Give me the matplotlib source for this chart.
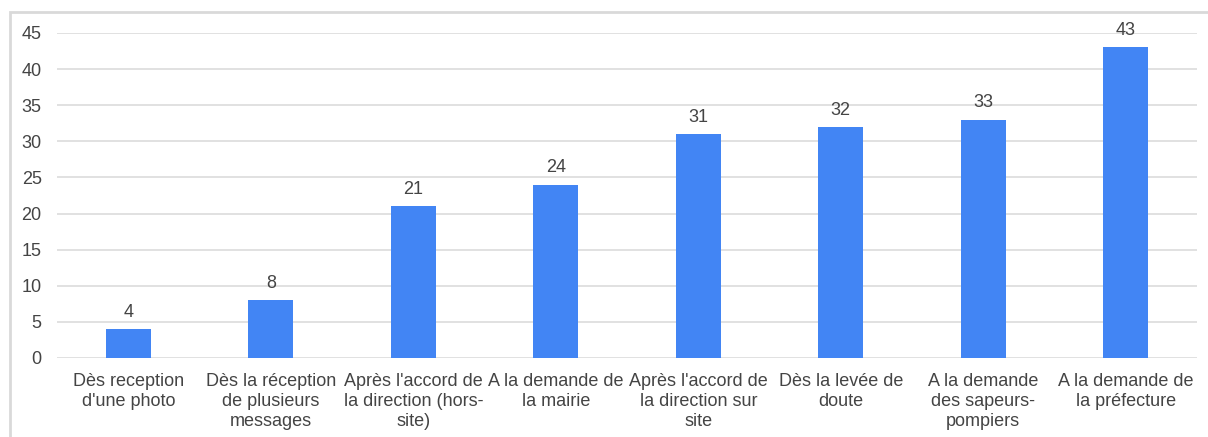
import matplotlib.pyplot as plt
from matplotlib.patches import Rectangle

categories = [
    "Dès reception\nd'une photo",
    "Dès la réception\nde plusieurs\nmessages",
    "Après l'accord de\nla direction (hors-\nsite)",
    "A la demande de\nla mairie",
    "Après l'accord de\nla direction sur\nsite",
    "Dès la levée de\ndoute",
    "A la demande\ndes sapeurs-\npompiers",
    "A la demande de\nla préfecture",
]
values = [4, 8, 21, 24, 31, 32, 33, 43]
yticks = [0, 5, 10, 15, 20, 25, 30, 35, 40, 45]

plt.rcParams['font.family'] = ['Liberation Sans', 'DejaVu Sans']
text_color = '#444444'
fs = 13

fig = plt.figure(figsize=(12.08, 4.37), dpi=100)
ax = fig.add_axes([0.0472, 0.1808, 0.9437, 0.7437])

# outer frame (left and top edges visible, rest cropped)
fig.patches.append(Rectangle((10 / 1208, -0.1), 1.2, 0.1 + (1 - 12 / 437),
                             transform=fig.transFigure, fill=False,
                             edgecolor='#d9d9d9', linewidth=2))

x = range(len(values))
ax.bar(x, values, width=0.315, color='#4285F4', zorder=3)
for xi, v in zip(x, values):
    ax.annotate(str(v), (xi, v), xytext=(0, 6), textcoords='offset points',
                ha='center', va='bottom', fontsize=fs, color=text_color)

ax.set_xlim(-0.5, len(values) - 0.5)
ax.set_ylim(0, 45)
ax.set_yticks(yticks)
ax.set_xticks(list(x))
ax.set_xticklabels(categories, fontsize=fs, color=text_color, linespacing=1.22)
ax.tick_params(axis='y', labelsize=fs, labelcolor=text_color, length=0, pad=11)
ax.tick_params(axis='x', length=0, pad=11)
ax.grid(axis='y', color='#dcdcdc', linewidth=1.2, zorder=0)
for s in ax.spines.values():
    s.set_visible(False)

fig.savefig('out.png', dpi=100)
